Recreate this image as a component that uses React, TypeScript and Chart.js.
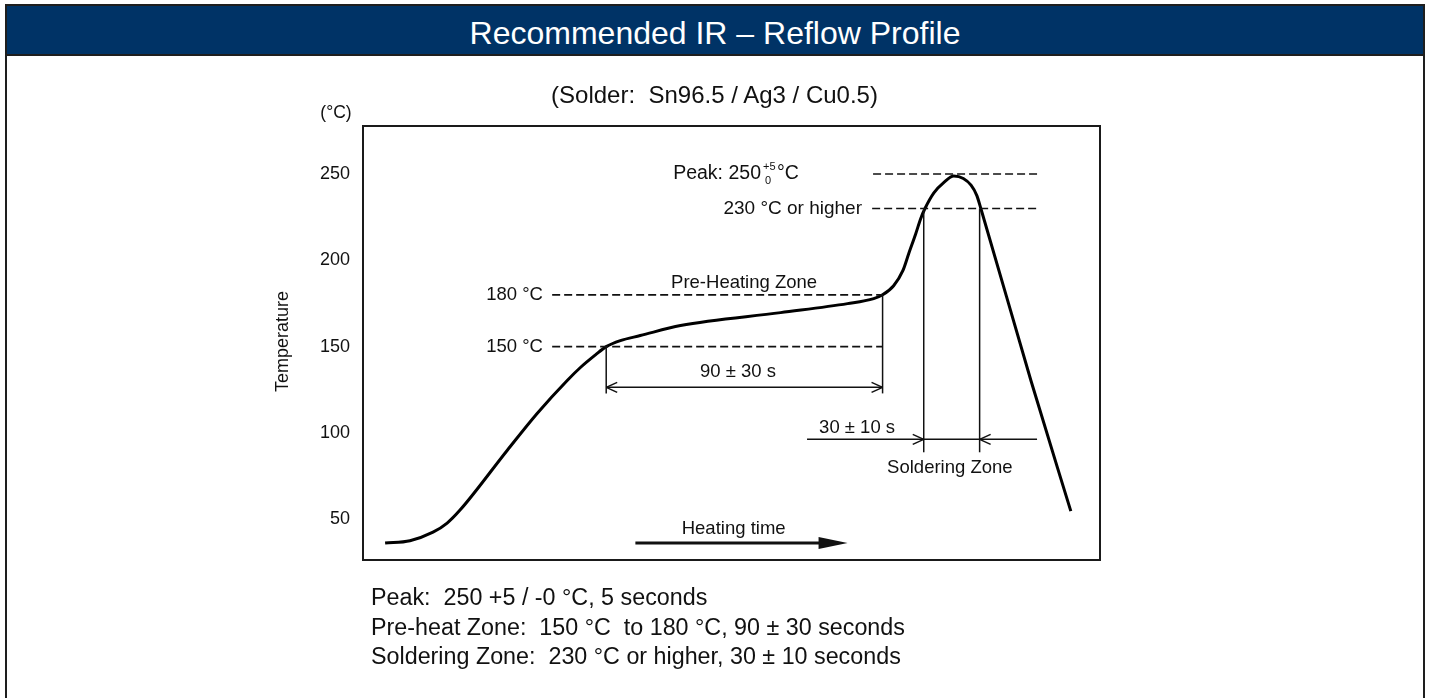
import React, { useEffect, useRef } from "react";
import { Chart, registerables } from "chart.js";

Chart.register(...registerables);

// ---- Data ----
const timeSec = [7.2, 15.3, 22.8, 27.4, 31.6, 47.0, 56.7, 66.5, 70.8, 75.7, 79.2, 83.8, 90.3, 103.4, 136.0, 157.8, 166.3, 169.2, 172.8, 175.8, 177.7, 180.0, 181.6, 183.0, 185.9, 189.1, 192.4, 195.5, 198.0, 199.9, 201.2, 217.5, 230.5];
const tempC = [36.2, 37.6, 42.5, 47.8, 55.3, 90.0, 111.3, 130.4, 137.9, 145.2, 150, 153.5, 156.4, 162.2, 169.7, 174.9, 177.8, 180, 185.3, 194.0, 203.8, 215.4, 224.1, 230, 239.1, 245.0, 248.8, 247.4, 243.5, 237.5, 230, 130.4, 54.7];
const yTickValues = [50, 100, 150, 200, 250];

// Profile annotation values
const preheatLow = 150;
const preheatHigh = 180;
const solderTemp = 230;
const peakTemp = 250;
const preheatStart = 79.2;
const preheatEnd = 169.2;
const solderStart = 182.6;
const solderEnd = 200.8;

const FONT = 'Arial, "Liberation Sans", sans-serif';

const annotationPlugin = {
  id: "reflowAnnotations",
  beforeDatasetsDraw(chart: any) {
    const { ctx, chartArea } = chart;
    ctx.save();
    ctx.strokeStyle = "#1a1a1a";
    ctx.lineWidth = 2;
    ctx.strokeRect(chartArea.left, chartArea.top, chartArea.right - chartArea.left, chartArea.bottom - chartArea.top);
    ctx.restore();
  },
  afterDatasetsDraw(chart: any) {
    const { ctx, chartArea } = chart;
    const X = (t: number) => chart.scales.x.getPixelForValue(t);
    const Y = (v: number) => chart.scales.y.getPixelForValue(v);
    ctx.save();
    ctx.fillStyle = "#111";
    ctx.strokeStyle = "#111";

    const line = (x1: number, y1: number, x2: number, y2: number, w = 1.5, dash: number[] = []) => {
      ctx.save();
      ctx.lineWidth = w;
      ctx.setLineDash(dash);
      ctx.beginPath();
      ctx.moveTo(x1, y1);
      ctx.lineTo(x2, y2);
      ctx.stroke();
      ctx.restore();
    };
    const openHead = (x: number, y: number, dir: number) => {
      line(x, y, x - dir * 11, y - 5, 1.5);
      line(x, y, x - dir * 11, y + 5, 1.5);
    };
    const text = (s: string, x: number, y: number, align: CanvasTextAlign = "center", size = 18.5) => {
      ctx.font = `${size}px ${FONT}`;
      ctx.textAlign = align;
      ctx.textBaseline = "middle";
      ctx.fillText(s, x, y);
    };
    const dash = [8, 4];

    // axis captions
    text("(\u00B0C)", chartArea.left - 27, chartArea.top - 13, "center", 17.5);
    ctx.save();
    ctx.translate(chartArea.left - 80, Y(153));
    ctx.rotate(-Math.PI / 2);
    text("Temperature", 0, 0, "center", 18);
    ctx.restore();

    // pre-heating zone
    text("180 \u00B0C", X(58.6), Y(preheatHigh), "right");
    text("150 \u00B0C", X(58.6), Y(preheatLow), "right");
    line(X(61.6), Y(preheatHigh), X(preheatEnd), Y(preheatHigh), 1.6, dash);
    line(X(61.6), Y(preheatLow), X(preheatEnd), Y(preheatLow), 1.6, dash);
    line(X(preheatStart), Y(preheatLow), X(preheatStart), Y(122.9), 1.5);
    line(X(preheatEnd), Y(preheatHigh), X(preheatEnd), Y(122.9), 1.5);
    line(X(preheatStart), Y(126.4), X(preheatEnd), Y(126.4), 1.5);
    openHead(X(preheatStart), Y(126.4), -1);
    openHead(X(preheatEnd), Y(126.4), 1);
    text("Pre-Heating Zone", X(124.1), Y(187.1));
    text("90 \u00B1 30 s", X(122.1), Y(135.1));

    // peak
    ctx.font = `19.5px ${FONT}`;
    ctx.textAlign = "left";
    ctx.textBaseline = "middle";
    const px0 = X(101);
    const py0 = Y(peakTemp);
    const base = "Peak: 250";
    ctx.fillText(base, px0, py0);
    const bw = ctx.measureText(base).width;
    ctx.font = `11px ${FONT}`;
    ctx.fillText("+5", px0 + bw + 2, py0 - 7);
    ctx.fillText("0", px0 + bw + 4, py0 + 7);
    ctx.font = `19.5px ${FONT}`;
    ctx.fillText("\u00B0C", px0 + bw + 16, py0);
    line(X(166.1), Y(peakTemp), X(219.5), Y(peakTemp), 1.6, dash);

    // soldering zone
    text("230 \u00B0C or higher", X(162.5), Y(solderTemp), "right", 19);
    line(X(165.8), Y(solderTemp), X(220.5), Y(solderTemp), 1.6, dash);
    line(X(solderStart), Y(solderTemp), X(solderStart), Y(88.8), 1.5);
    line(X(solderEnd), Y(solderTemp), X(solderEnd), Y(88.8), 1.5);
    line(X(144.6), Y(96.3), X(219.5), Y(96.3), 1.5);
    openHead(X(solderStart), Y(96.3), 1);
    openHead(X(solderEnd), Y(96.3), -1);
    text("30 \u00B1 10 s", X(160.9), Y(102.7));
    text("Soldering Zone", X(191.1), Y(79.5));

    // heating time
    text("Heating time", X(120.7), Y(44.3));
    const hx1 = X(88.7);
    const hx2 = X(157.8);
    const hy = Y(36.2);
    line(hx1, hy, hx2 - 20, hy, 3);
    ctx.beginPath();
    ctx.moveTo(hx2, hy);
    ctx.lineTo(hx2 - 29, hy - 6);
    ctx.lineTo(hx2 - 29, hy + 6);
    ctx.closePath();
    ctx.fill();

    ctx.restore();
  },
};

export default function App() {
  const canvasRef = useRef<HTMLCanvasElement | null>(null);

  useEffect(() => {
    const canvas = canvasRef.current;
    if (!canvas) return;
    const chart = new Chart(canvas, {
      type: "line",
      data: {
        datasets: [
          {
            label: "Reflow profile",
            data: timeSec.map((t, i) => ({ x: t, y: tempC[i] })),
            borderColor: "#000",
            borderWidth: 3,
            pointRadius: 0,
            cubicInterpolationMode: "monotone",
            fill: false,
          },
        ],
      },
      options: {
        animation: false,
        responsive: false,
        maintainAspectRatio: false,
        devicePixelRatio: 1,
        layout: { padding: { top: 126, bottom: 138, right: 329, left: 0 } },
        plugins: { legend: { display: false }, tooltip: { enabled: false }, title: { display: false } },
        scales: {
          x: { type: "linear", min: 0, max: 240, display: false },
          y: {
            type: "linear",
            min: 26.4,
            max: 277.8,
            grid: { display: false, drawTicks: false },
            border: { display: false },
            afterBuildTicks: (scale: any) => {
              scale.ticks = yTickValues.map((v) => ({ value: v }));
            },
            afterFit: (scale: any) => {
              scale.width = 363;
            },
            ticks: {
              padding: 13,
              color: "#111",
              font: { family: FONT, size: 18 },
              callback: (v: any) => String(v),
            },
          },
        },
      },
      plugins: [annotationPlugin],
    } as any);
    return () => chart.destroy();
  }, []);

  return (
    <div
      style={{
        position: "fixed",
        left: 0,
        top: 0,
        width: 1429,
        height: 698,
        background: "#fff",
        overflow: "hidden",
        fontFamily: FONT,
        color: "#111",
      }}
    >
      <canvas ref={canvasRef} width={1429} height={698} style={{ position: "absolute", left: 0, top: 0 }} />
      <div
        style={{
          position: "absolute",
          left: 5,
          top: 4,
          width: 1420,
          height: 760,
          border: "2px solid #1e1e1e",
          boxSizing: "border-box",
          pointerEvents: "none",
        }}
      />
      <div
        style={{
          position: "absolute",
          left: 7,
          top: 6,
          width: 1416,
          height: 48,
          background: "#003366",
          borderBottom: "2px solid #1e1e1e",
        }}
      />
      <div
        style={{
          position: "absolute",
          left: 7,
          top: 9,
          width: 1416,
          color: "#fff",
          fontSize: 32,
          lineHeight: "48px",
          textAlign: "center",
        }}
      >
        Recommended IR – Reflow Profile
      </div>
      <div
        style={{
          position: "absolute",
          left: 0,
          top: 80,
          width: 1429,
          textAlign: "center",
          fontSize: 24,
          lineHeight: "30px",
          whiteSpace: "pre",
        }}
      >
        (Solder:  Sn96.5 / Ag3 / Cu0.5)
      </div>
      <div
        style={{
          position: "absolute",
          left: 371,
          top: 583,
          fontSize: 23.3,
          lineHeight: "29.5px",
          whiteSpace: "pre",
        }}
      >
        <div>Peak:  250 +5 / -0 °C, 5 seconds</div>
        <div>Pre-heat Zone:  150 °C  to 180 °C, 90 ± 30 seconds</div>
        <div>Soldering Zone:  230 °C or higher, 30 ± 10 seconds</div>
      </div>
    </div>
  );
}
